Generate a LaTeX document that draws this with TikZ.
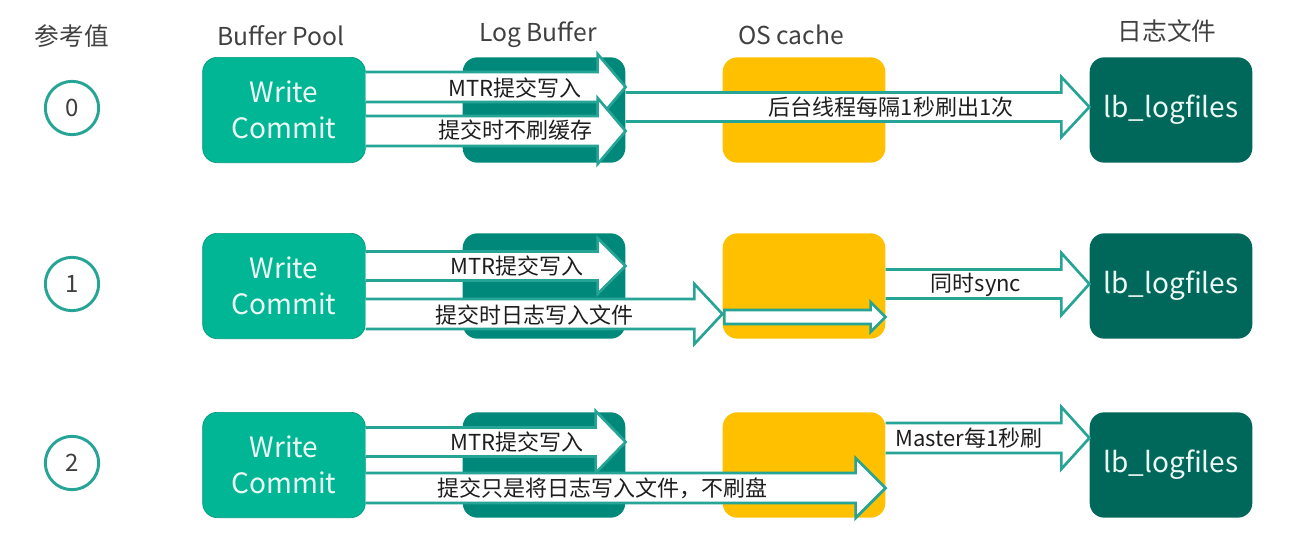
\documentclass[tikz,border=0pt]{standalone}
\usepackage{fontspec}
\setmainfont{Noto Sans CJK SC}
\usetikzlibrary{calc}

\definecolor{poolgreen}{RGB}{0,182,148}
\definecolor{logteal}{RGB}{0,137,123}
\definecolor{cacheyellow}{RGB}{255,192,0}
\definecolor{filegreen}{RGB}{0,104,90}
\definecolor{arrowteal}{RGB}{38,164,150}
\definecolor{titlegray}{RGB}{64,64,64}
\definecolor{labelblack}{RGB}{30,30,30}
\definecolor{boxtext}{RGB}{236,248,244}

\tikzset{
  title/.style={font=\fontsize{18.5}{22}\selectfont, text=titlegray, inner sep=0pt},
  valring/.style={circle, draw=arrowteal, line width=2.2pt, minimum size=40pt,
    inner sep=0pt, text=titlegray, font=\fontsize{18}{20}\selectfont},
  flatbox/.style={rounded corners=11pt, minimum width=122pt, minimum height=79pt,
    inner sep=0pt, align=center, text=boxtext},
  poolbox/.style={flatbox, fill=poolgreen, draw=poolgreen!85!black, line width=0.5pt,
    font=\fontsize{21}{27}\selectfont},
  logbox/.style={flatbox, fill=logteal},
  cachebox/.style={flatbox, fill=cacheyellow},
  filebox/.style={flatbox, fill=filegreen, font=\fontsize{21}{24}\selectfont},
  fatline/.style={draw=arrowteal, fill=white, line width=2pt, line join=miter},
  lbl/.style={font=\fontsize{16.5}{18}\selectfont, text=labelblack, inner sep=0pt}
}

\def\u{0.75pt}
% [closing], start, end, shaft half width, head half width, head length (px)
\newcommand{\fatarrow}[6][]{%
  \filldraw[fatline] let \p1=#2, \p2=#3 in
    (\x1,\y1+#4*\u) -- (\x2-#6*\u,\y1+#4*\u) -- (\x2-#6*\u,\y1+#5*\u)
    -- (\x2,\y1) -- (\x2-#6*\u,\y1-#5*\u) -- (\x2-#6*\u,\y1-#4*\u)
    -- (\x1,\y1-#4*\u) #1;}

\begin{document}
\begin{tikzpicture}[x=0.75pt,y=-0.75pt]
  \useasboundingbox (0,0) rectangle (1293,557);

  % Column titles
  \node[title] (hval)  at (72,36)   {参考值};
  \node[title] (hpool) at (281,36)  {Buffer Pool};
  \node[title] (hlog)  at (538,35)  {Log Buffer};
  \node[title] (hos)   at (791,35)  {OS cache};
  \node[title] (hfile) at (1167,31) {日志文件};

  % Boxes of the three rows
  \foreach \r/\y in {0/110,1/286,2/465} {
    \node[valring]  (v\r)  at (72,\y-2)  {\r};
    \node[poolbox]  (bp\r) at (284,\y)   {Write\\Commit};
    \node[logbox]   (lb\r) at (544,\y)   {};
    \node[cachebox] (os\r) at (804,\y)   {};
    \node[filebox]  (lf\r) at (1171,\y)  {lb\_logfiles};
  }

  % Row 0
  \fatarrow{($(bp0.east)+(0,-23)$)}{(lb0.east)}{15}{33}{28}
  \fatarrow{($(bp0.east)+(0,21)$)}{(lb0.east)}{15}{33}{28}
  \fatarrow{($(lb0.east)+(0,-3)$)}{(lf0.west)}{14.5}{30}{28}
  \node[lbl] (t0a) at (515,88)  {MTR提交写入};
  \node[lbl] (t0b) at (515,130) {提交时不刷缓存};
  \node[lbl] (t0c) at (891,107) {后台线程每隔1秒刷出1次};

  % Row 1
  \fatarrow{($(bp1.east)+(0,-20)$)}{(lb1.east)}{14.5}{28}{28}
  \fatarrow{($(bp1.east)+(0,28)$)}{(os1.west)}{15}{30}{28}
  \fatarrow[-- cycle]{($(os1.west)+(2,31)$)}{(os1.east)}{7}{15}{15}
  \fatarrow{($(os1.east)+(0,-2)$)}{(lf1.west)}{14.5}{31}{28}
  \node[lbl] (t1a) at (517,266) {MTR提交写入};
  \node[lbl] (t1b) at (534,315) {提交时日志写入文件};
  \node[lbl] (t1c) at (976,285) {同时sync};

  % Row 2
  \fatarrow{($(bp2.east)+(0,-23)$)}{(lb2.east)}{14.5}{31}{30}
  \fatarrow{($(bp2.east)+(0,23)$)}{(os2.east)}{15}{30}{30}
  \fatarrow{($(os2.east)+(0,-27)$)}{(lf2.west)}{15}{31}{28}
  \node[lbl] (t2a) at (517,442) {MTR提交写入};
  \node[lbl] (t2b) at (602,488) {提交只是将日志写入文件，不刷盘};
  \node[lbl] (t2c) at (969,438) {Master每1秒刷};
\end{tikzpicture}
\end{document}
